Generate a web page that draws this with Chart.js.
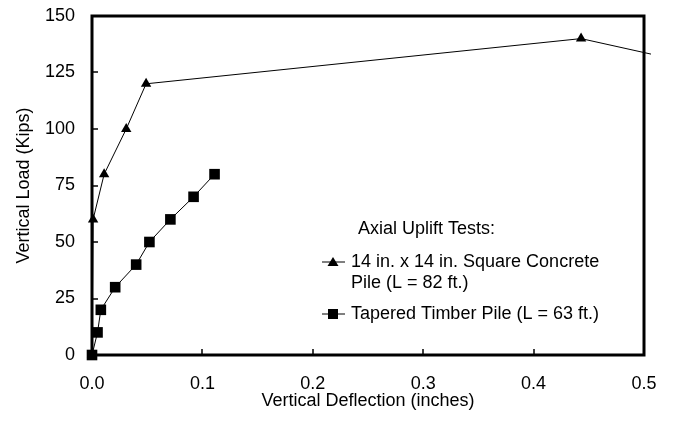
<!DOCTYPE html>
<html lang="en">
<head>
  <meta charset="UTF-8">
  <title>Axial Uplift Tests</title>
  <script src="https://cdn.jsdelivr.net/npm/chart.js"></script>
  <style>
    body { margin: 0; background: #fff; }
    .chart-container { width: 676px; height: 436px; }
  </style>
</head>
<body>
  <div class="chart-container">
    <canvas id="uplift-chart"></canvas>
  </div>

  <script>
    const concreteX = [0, 0.001, 0.011, 0.031, 0.049, 0.443, 0.6];
    const concreteY = [0, 60, 80, 100, 120, 140, 123];
    const timberX = [0, 0.005, 0.008, 0.021, 0.040, 0.052, 0.071, 0.092, 0.111];
    const timberY = [0, 10, 20, 30, 40, 50, 60, 70, 80];
    const xTicks = [0, 0.1, 0.2, 0.3, 0.4, 0.5];
    const yTicks = [0, 25, 50, 75, 100, 125, 150];

    const FONT = 'Liberation Sans, Arial, sans-serif';
    const toPoints = (xs, ys) => xs.map((x, i) => ({ x, y: ys[i] }));

    // frame + inward tick marks
    const framePlugin = {
      id: 'frame',
      beforeDatasetsDraw(chart) {
        const { ctx, chartArea: a, scales } = chart;
        ctx.save();
        ctx.strokeStyle = '#000';
        ctx.lineWidth = 1.5;
        xTicks.slice(1, -1).forEach(v => {
          const px = Math.round(scales.x.getPixelForValue(v));
          ctx.beginPath(); ctx.moveTo(px, a.bottom); ctx.lineTo(px, a.bottom - 6); ctx.stroke();
        });
        yTicks.slice(1, -1).forEach(v => {
          const py = Math.round(scales.y.getPixelForValue(v));
          ctx.beginPath(); ctx.moveTo(a.left, py); ctx.lineTo(a.left + 6, py); ctx.stroke();
        });
        ctx.lineWidth = 3;
        ctx.strokeRect(a.left, a.top, a.right - a.left, a.bottom - a.top);
        ctx.restore();
      }
    };

    // legend drawn as in the original (two-line first entry)
    const legendPlugin = {
      id: 'customLegend',
      afterDraw(chart) {
        const ctx = chart.ctx;
        ctx.save();
        ctx.fillStyle = '#000';
        ctx.strokeStyle = '#000';
        ctx.font = '18px ' + FONT;
        ctx.textBaseline = 'middle';
        ctx.textAlign = 'left';
        ctx.fillText('Axial Uplift Tests:', 358, 229);

        ctx.lineWidth = 1;
        ctx.beginPath(); ctx.moveTo(322, 262); ctx.lineTo(345, 262); ctx.stroke();
        ctx.beginPath();
        ctx.moveTo(333, 257); ctx.lineTo(338.5, 266); ctx.lineTo(327.5, 266); ctx.closePath();
        ctx.fill();
        ctx.fillText('14 in. x 14 in. Square Concrete', 351, 262);
        ctx.fillText('Pile (L = 82 ft.)', 351, 283);

        ctx.beginPath(); ctx.moveTo(322, 314); ctx.lineTo(345, 314); ctx.stroke();
        ctx.fillRect(328, 309, 10, 10);
        ctx.fillText('Tapered Timber Pile (L = 63 ft.)', 351, 314);
        ctx.restore();
      }
    };

    new Chart(document.getElementById('uplift-chart'), {
      type: 'scatter',
      data: {
        datasets: [
          {
            label: '14 in. x 14 in. Square Concrete Pile (L = 82 ft.)',
            data: toPoints(concreteX, concreteY),
            showLine: true,
            borderColor: '#000',
            backgroundColor: '#000',
            borderWidth: 1,
            pointStyle: 'triangle',
            pointRadius: 6,
            pointBorderWidth: 0,
            clip: { left: 10, top: 10, right: 7, bottom: 10 }
          },
          {
            label: 'Tapered Timber Pile (L = 63 ft.)',
            data: toPoints(timberX, timberY),
            showLine: true,
            borderColor: '#000',
            backgroundColor: '#000',
            borderWidth: 1,
            pointStyle: 'rect',
            pointRadius: 7.5,
            pointBorderWidth: 0,
            clip: { left: 10, top: 10, right: 7, bottom: 10 }
          }
        ]
      },
      options: {
        responsive: true,
        maintainAspectRatio: false,
        animation: false,
        layout: { padding: { top: 16, right: 32, bottom: 0, left: 0 } },
        plugins: {
          legend: { display: false },
          tooltip: { enabled: false }
        },
        scales: {
          x: {
            type: 'linear',
            min: 0,
            max: 0.5,
            afterBuildTicks: s => { s.ticks = xTicks.map(v => ({ value: v })); },
            afterFit: s => { s.height = 81; s.paddingLeft = 0; s.paddingRight = 0; },
            grid: { display: false, drawTicks: false },
            border: { display: false },
            ticks: {
              color: '#000',
              font: { family: FONT, size: 18 },
              padding: 18,
              maxRotation: 0,
              callback: v => Number(v).toFixed(1)
            },
            title: {
              display: true,
              text: 'Vertical Deflection (inches)',
              color: '#000',
              font: { family: FONT, size: 18 },
              padding: { top: 0, bottom: 24 }
            }
          },
          y: {
            type: 'linear',
            min: 0,
            max: 150,
            afterBuildTicks: s => { s.ticks = yTicks.map(v => ({ value: v })); },
            afterFit: s => { s.width = 92; s.paddingTop = 0; s.paddingBottom = 0; },
            grid: { display: false, drawTicks: false },
            border: { display: false },
            ticks: {
              color: '#000',
              font: { family: FONT, size: 18 },
              padding: 17
            },
            title: {
              display: true,
              text: 'Vertical Load (Kips)',
              color: '#000',
              font: { family: FONT, size: 18 },
              padding: { top: 13, bottom: 0 }
            }
          }
        }
      },
      plugins: [framePlugin, legendPlugin]
    });
  </script>
</body>
</html>
